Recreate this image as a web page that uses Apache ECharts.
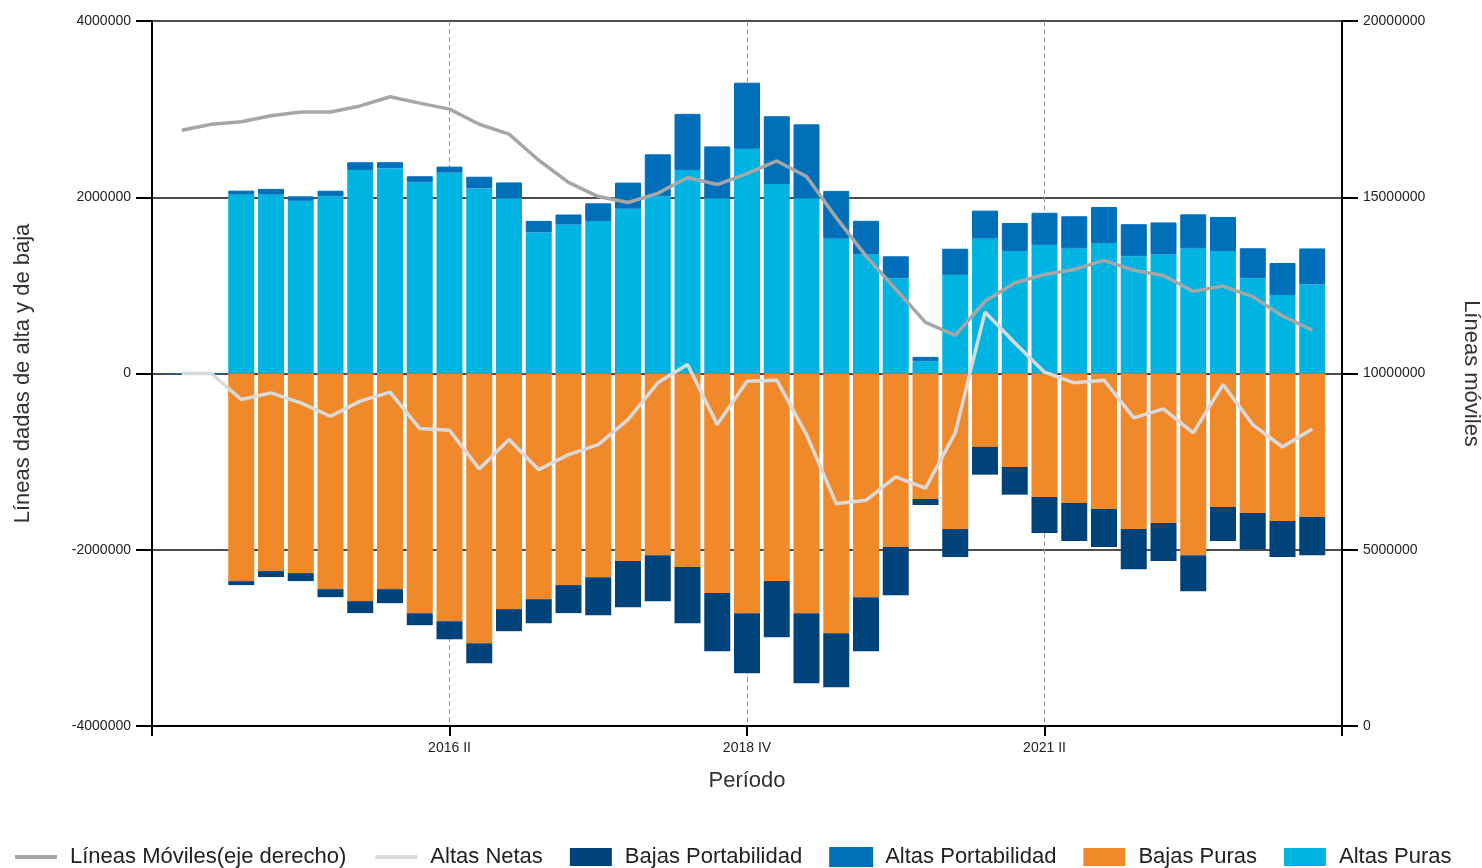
<!DOCTYPE html>
<html>
<head>
<meta charset="utf-8">
<script src="https://cdn.jsdelivr.net/npm/echarts@6/dist/echarts.min.js"></script>
<style>
  html, body { margin: 0; padding: 0; background: #fff; }
  #chart { width: 1482px; height: 868px; }
</style>
</head>
<body>
<div id="chart"></div>
<script>
// categorias (trimestres)
var periodos = ['2013 IV',
  '2014 I','2014 II','2014 III','2014 IV',
  '2015 I','2015 II','2015 III','2015 IV',
  '2016 I','2016 II','2016 III','2016 IV',
  '2017 I','2017 II','2017 III','2017 IV',
  '2018 I','2018 II','2018 III','2018 IV',
  '2019 I','2019 II','2019 III','2019 IV',
  '2020 I','2020 II','2020 III','2020 IV',
  '2021 I','2021 II','2021 III','2021 IV',
  '2022 I','2022 II','2022 III','2022 IV',
  '2023 I','2023 II','2023 III','2023 IV'];

var altasPuras = [null, 0, 0,
  2030000, 2030000, 1960000, 2010000, 2310000, 2330000, 2170000, 2280000, 2100000, 1990000,
  1600000, 1690000, 1730000, 1870000, 2010000, 2310000, 1990000, 2550000, 2150000, 1990000,
  1530000, 1350000, 1080000, 140000, 1120000, 1530000, 1390000, 1460000, 1420000, 1480000,
  1330000, 1350000, 1420000, 1390000, 1080000, 890000, 1010000, null];

var altasPortabilidad = [null, 0, 0,
  45000, 65000, 50000, 64000, 87000, 68000, 68000, 68000, 133000, 178000,
  132000, 114000, 201000, 296000, 477000, 636000, 587000, 750000, 769000, 837000,
  542000, 383000, 250000, 49000, 296000, 318000, 318000, 364000, 364000, 409000,
  364000, 364000, 386000, 386000, 341000, 364000, 409000, null];

var bajasPuras = [null, 0, 0,
  -2356000, -2242000, -2265000, -2447000, -2583000, -2447000, -2720000, -2811000, -3061000, -2674000,
  -2561000, -2401000, -2311000, -2129000, -2061000, -2197000, -2492000, -2720000, -2356000, -2720000,
  -2947000, -2538000, -1970000, -1424000, -1765000, -833000, -1061000, -1402000, -1470000, -1538000,
  -1765000, -1697000, -2061000, -1515000, -1583000, -1674000, -1629000, null];

var bajasPortabilidad = [null, 0, 0,
  -45000, -68000, -91000, -91000, -136000, -159000, -136000, -205000, -227000, -250000,
  -273000, -318000, -432000, -523000, -523000, -636000, -659000, -682000, -636000, -795000,
  -614000, -614000, -545000, -68000, -318000, -315000, -314000, -409000, -432000, -432000,
  -455000, -432000, -409000, -386000, -409000, -409000, -432000, null];

var altasNetas = [null, 0, 0,
  -295000, -220000, -333000, -485000, -314000, -212000, -625000, -644000, -1083000, -750000,
  -1091000, -920000, -807000, -523000, -106000, 102000, -580000, -87000, -76000, -693000,
  -1477000, -1439000, -1174000, -1300000, -674000, 697000, 349000, 15000, -106000, -76000,
  -504000, -401000, -674000, -125000, -580000, -834000, -629000, null];

var lineasMoviles = [null, 16900000, 17070000,
  17140000, 17310000, 17420000, 17420000, 17590000, 17850000, 17670000, 17500000, 17070000, 16790000,
  16050000, 15420000, 15020000, 14850000, 15110000, 15560000, 15360000, 15670000, 16030000, 15590000,
  14420000, 13330000, 12390000, 11450000, 11080000, 12050000, 12570000, 12810000, 12950000, 13210000,
  12930000, 12780000, 12330000, 12480000, 12180000, 11630000, 11230000, null];

var ticksIzq = { min: -4000000, max: 4000000, interval: 2000000 };
var ticksDer = { min: 0, max: 20000000, interval: 5000000 };

var colores = {
  altasPuras: '#00b4e1',
  altasPortabilidad: '#006fba',
  bajasPuras: '#f0892a',
  bajasPortabilidad: '#00427a',
  moviles: '#a6a6a6',
  netas: '#dadada'
};

// etiquetas sin separador de miles
function sinSeparador(v) { return String(v); }

var myChart = echarts.init(document.getElementById('chart'));

var option = {
  animation: false,
  textStyle: { fontFamily: 'Liberation Sans' },
  grid: { left: 152, right: 140, top: 21, bottom: 142, containLabel: false, outerBoundsMode: 'none' },
  legend: {
    left: 8,
    top: 841,
    itemWidth: 42,
    itemHeight: 18,
    itemGap: 27,
    textStyle: { fontSize: 22, color: '#222', padding: [0, 0, 0, 8] },
    data: [
      { name: 'Líneas Móviles(eje derecho)', itemStyle: { opacity: 0 }, lineStyle: { width: 4 } },
      { name: 'Altas Netas', itemStyle: { opacity: 0 }, lineStyle: { width: 4 } },
      { name: 'Bajas Portabilidad', icon: 'rect' },
      { name: 'Altas Portabilidad', icon: 'rect' },
      { name: 'Bajas Puras', icon: 'rect' },
      { name: 'Altas Puras', icon: 'rect' }
    ]
  },
  xAxis: {
    type: 'category',
    data: periodos,
    boundaryGap: false,
    name: 'Período',
    nameLocation: 'middle',
    nameGap: 44,
    nameTextStyle: { fontSize: 22, color: '#333' },
    axisLine: { onZero: false, lineStyle: { color: '#000', width: 2 } },
    axisTick: {
      interval: function (i) { return i % 10 === 0; },
      length: 10,
      lineStyle: { color: '#000', width: 2 }
    },
    axisLabel: {
      interval: function (i) { return i % 10 === 0 && i > 0 && i < 40; },
      margin: 15,
      fontSize: 14,
      color: '#222'
    },
    splitLine: {
      show: true,
      interval: function (i) { return i === 10 || i === 20 || i === 30; },
      lineStyle: { color: '#999', width: 1, type: [5, 3] }
    }
  },
  yAxis: [
    {
      type: 'value',
      min: ticksIzq.min,
      max: ticksIzq.max,
      interval: ticksIzq.interval,
      name: 'Líneas dadas de alta y de baja',
      nameLocation: 'middle',
      nameRotate: 90,
      nameGap: 118,
      nameTextStyle: { fontSize: 22, color: '#333' },
      axisLine: { show: true, lineStyle: { color: '#000', width: 2 } },
      axisTick: { show: true, length: 16, lineStyle: { color: '#000', width: 2 } },
      axisLabel: { margin: 21, fontSize: 14, color: '#222', formatter: sinSeparador },
      splitLine: { show: true, lineStyle: { color: '#111', width: 1.5 } }
    },
    {
      type: 'value',
      position: 'right',
      min: ticksDer.min,
      max: ticksDer.max,
      interval: ticksDer.interval,
      name: 'Líneas móviles',
      nameLocation: 'middle',
      nameRotate: -90,
      nameGap: 118,
      nameTextStyle: { fontSize: 22, color: '#333' },
      axisLine: { show: true, lineStyle: { color: '#000', width: 2 } },
      axisTick: { show: true, length: 16, lineStyle: { color: '#000', width: 2 } },
      axisLabel: { margin: 21, fontSize: 14, color: '#222', formatter: sinSeparador },
      splitLine: { show: false }
    }
  ],
  series: [
    {
      name: 'Altas Puras', type: 'bar', stack: 'total', barWidth: 26,
      itemStyle: { color: colores.altasPuras },
      data: altasPuras
    },
    {
      name: 'Altas Portabilidad', type: 'bar', stack: 'total', barWidth: 26,
      itemStyle: { color: colores.altasPortabilidad, borderColor: colores.altasPortabilidad, borderWidth: 1 },
      data: altasPortabilidad
    },
    {
      name: 'Bajas Puras', type: 'bar', stack: 'total', barWidth: 26,
      itemStyle: { color: colores.bajasPuras },
      data: bajasPuras
    },
    {
      name: 'Bajas Portabilidad', type: 'bar', stack: 'total', barWidth: 26,
      itemStyle: { color: colores.bajasPortabilidad },
      data: bajasPortabilidad
    },
    {
      name: 'Líneas Móviles(eje derecho)', type: 'line', yAxisIndex: 1,
      symbol: 'none', z: 3,
      itemStyle: { color: colores.moviles },
      lineStyle: { color: colores.moviles, width: 3.5 },
      data: lineasMoviles
    },
    {
      name: 'Altas Netas', type: 'line', yAxisIndex: 0,
      symbol: 'none', z: 4,
      itemStyle: { color: colores.netas },
      lineStyle: { color: colores.netas, width: 3.5 },
      data: altasNetas
    }
  ]
};

myChart.setOption(option);
</script>
</body>
</html>
